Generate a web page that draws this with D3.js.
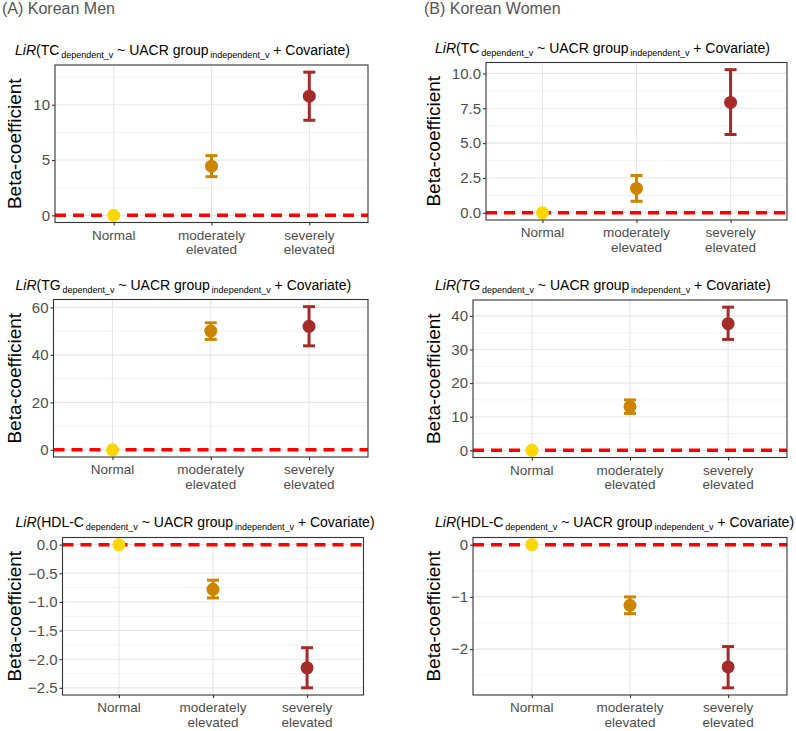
<!DOCTYPE html>
<html><head><meta charset="utf-8">
<script src="https://cdn.jsdelivr.net/npm/d3@7"></script>
<style>body{margin:0;background:#fff}svg{display:block}</style></head>
<body>
<svg id="c" width="796" height="731"></svg>
<script>
// ---------- data ----------
const categories = ["Normal", "moderately elevated", "severely elevated"];
const categoryLines = [["Normal"], ["moderately", "elevated"], ["severely", "elevated"]];
const pointColors = ["#FFD700", "#CD8500", "#A52A2A"];

const menTC = [0, 4.45, 10.78];
const menTCLo = [0, 3.5, 8.6];
const menTCHi = [0, 5.4, 12.95];

const menTG = [0, 50.0, 52.0];
const menTGLo = [0, 46.5, 43.8];
const menTGHi = [0, 53.5, 60.3];

const menHDL = [0, -0.78, -2.15];
const menHDLLo = [0, -0.93, -2.50];
const menHDLHi = [0, -0.62, -1.80];

const womenTC = [0, 1.75, 7.92];
const womenTCLo = [0, 0.83, 5.62];
const womenTCHi = [0, 2.68, 10.27];

const womenTG = [0, 13.0, 37.7];
const womenTGLo = [0, 11.0, 33.0];
const womenTGHi = [0, 15.0, 42.6];

const womenHDL = [0, -1.16, -2.34];
const womenHDLLo = [0, -1.32, -2.74];
const womenHDLHi = [0, -1.00, -1.95];

const ticksMenTC = [0, 5, 10];
const ticksMenTG = [0, 20, 40, 60];
const ticksMenHDL = [0, -0.5, -1.0, -1.5, -2.0, -2.5];
const ticksWomenTC = [0, 2.5, 5.0, 7.5, 10.0];
const ticksWomenTG = [0, 10, 20, 30, 40];
const ticksWomenHDL = [0, -1, -2];

const groupLabels = ["(A) Korean Men", "(B) Korean Women"];
const yTitle = "Beta-coefficient";

// ---------- layout ----------
const minus = s => s.replace("-", "\u2212");
const panels = [
  {v: menTC, lo: menTCLo, hi: menTCHi, ticks: ticksMenTC, fmt: d3.format("d"), dep: "TC", italDep: false,
   box: {l: 55, r: 368, t: 65}, sub: {x: 15, y: 55}, yt: 14},
  {v: menTG, lo: menTGLo, hi: menTGHi, ticks: ticksMenTG, fmt: d3.format("d"), dep: "TG", italDep: false,
   box: {l: 53.5, r: 368, t: 299.5}, sub: {x: 15.5, y: 290}, yt: 14},
  {v: menHDL, lo: menHDLLo, hi: menHDLHi, ticks: ticksMenHDL, fmt: d3.format(".1f"), dep: "HDL-C", italDep: false,
   box: {l: 62.5, r: 363.5, t: 537.5}, sub: {x: 15.5, y: 527}, yt: 14},
  {v: womenTC, lo: womenTCLo, hi: womenTCHi, ticks: ticksWomenTC, fmt: d3.format(".1f"), dep: "TC", italDep: false,
   box: {l: 486, r: 787, t: 62.5}, sub: {x: 435, y: 53}, yt: 433},
  {v: womenTG, lo: womenTGLo, hi: womenTGHi, ticks: ticksWomenTG, fmt: d3.format("d"), dep: "TG", italDep: true,
   box: {l: 473, r: 787, t: 300}, sub: {x: 435, y: 290}, yt: 433},
  {v: womenHDL, lo: womenHDLLo, hi: womenHDLHi, ticks: ticksWomenHDL, fmt: d3.format("d"), dep: "HDL-C", italDep: false,
   box: {l: 473, r: 787, t: 537.5}, sub: {x: 435, y: 527}, yt: 433}
];
const panelHeight = 157.5;
const FONT = "'Liberation Sans', Arial, Helvetica, sans-serif";

const svg = d3.select("#c").style("font-family", FONT);

// group labels
svg.append("text").attr("x", 2).attr("y", 14).attr("font-size", 16).attr("fill", "#555").text(groupLabels[0]);
svg.append("text").attr("x", 424).attr("y", 14).attr("font-size", 16).attr("fill", "#555").text(groupLabels[1]);

panels.forEach(p => {
  const L = p.box.l, R = p.box.r, T = p.box.t, B = T + panelHeight;
  const all = [0].concat(p.lo, p.hi, p.v);
  const [mn, mx] = d3.extent(all);
  const pad = (mx - mn) * 0.05;
  const y = d3.scaleLinear().domain([mn - pad, mx + pad]).range([B, T]);
  const x = d3.scalePoint().domain(categories).range([L, R]).padding(0.6);
  const g = svg.append("g");

  // grid
  const step = Math.abs(p.ticks[1] - p.ticks[0]);
  const minor = [];
  const sorted = p.ticks.slice().sort((a, b) => a - b);
  for (let t = sorted[0] - step / 2; t <= sorted[sorted.length - 1] + step; t += step) {
    if (t > mn - pad && t < mx + pad) minor.push(t);
  }
  g.selectAll(".mn").data(minor).join("line")
    .attr("x1", L).attr("x2", R).attr("y1", d => y(d)).attr("y2", d => y(d))
    .attr("stroke", "#EBEBEB").attr("stroke-width", 0.6);
  g.selectAll(".mj").data(p.ticks).join("line")
    .attr("x1", L).attr("x2", R).attr("y1", d => y(d)).attr("y2", d => y(d))
    .attr("stroke", "#E6E6E6").attr("stroke-width", 1.1);
  g.selectAll(".vx").data(categories).join("line")
    .attr("x1", d => x(d)).attr("x2", d => x(d)).attr("y1", T).attr("y2", B)
    .attr("stroke", "#E6E6E6").attr("stroke-width", 1.1);

  // reference line
  g.append("line").attr("x1", L).attr("x2", R).attr("y1", y(0)).attr("y2", y(0))
    .attr("stroke", "#FF0000").attr("stroke-width", 3.5).attr("stroke-dasharray", "11,7");

  // error bars
  const idx = d3.range(categories.length).filter(i => p.lo[i] !== p.hi[i]);
  idx.forEach(i => {
    const cx = x(categories[i]);
    const eg = g.append("g").attr("stroke", pointColors[i]).attr("stroke-width", 3);
    eg.append("line").attr("x1", cx).attr("x2", cx).attr("y1", y(p.lo[i])).attr("y2", y(p.hi[i]));
    eg.append("line").attr("x1", cx - 6).attr("x2", cx + 6).attr("y1", y(p.lo[i])).attr("y2", y(p.lo[i]));
    eg.append("line").attr("x1", cx - 6).attr("x2", cx + 6).attr("y1", y(p.hi[i])).attr("y2", y(p.hi[i]));
  });

  // points
  g.selectAll(".pt").data(p.v).join("circle")
    .attr("cx", (d, i) => x(categories[i])).attr("cy", d => y(d)).attr("r", 6.5)
    .attr("fill", (d, i) => pointColors[i]);

  // border
  g.append("rect").attr("x", L).attr("y", T).attr("width", R - L).attr("height", B - T)
    .attr("fill", "none").attr("stroke", "#333").attr("stroke-width", 1.1);

  // y axis
  const ya = g.append("g").attr("transform", `translate(${L},0)`)
    .call(d3.axisLeft(y).tickValues(p.ticks).tickSize(3).tickPadding(2).tickFormat(d => minus(p.fmt(d))));
  ya.select(".domain").remove();
  ya.selectAll(".tick line").attr("stroke", "#333").attr("stroke-width", 1.1);
  ya.selectAll(".tick text").attr("fill", "#4D4D4D").attr("font-size", 15).attr("font-family", FONT);

  // x axis
  const xa = g.append("g").attr("transform", `translate(0,${B})`)
    .call(d3.axisBottom(x).tickSize(3).tickFormat(""));
  xa.select(".domain").remove();
  xa.selectAll(".tick line").attr("stroke", "#333").attr("stroke-width", 1.1);
  categories.forEach((c, i) => {
    categoryLines[i].forEach((ln, k) => {
      g.append("text").attr("text-anchor", "middle").attr("fill", "#4D4D4D")
        .attr("font-size", 13.5).attr("x", x(c)).attr("y", B + 17 + k * 14.5).text(ln);
    });
  });

  // y title
  g.append("text").attr("transform", `translate(${p.yt + 7},${(T + B) / 2}) rotate(-90)`)
    .attr("text-anchor", "middle").attr("font-size", 19).attr("fill", "#000").text(yTitle);

  // subtitle
  const st = g.append("text").attr("x", p.sub.x).attr("y", p.sub.y).attr("font-size", 14).attr("fill", "#000");
  if (p.italDep) {
    st.append("tspan").attr("font-style", "italic").text("LiR(" + p.dep);
  } else {
    st.append("tspan").attr("font-style", "italic").text("LiR");
    st.append("tspan").text("(" + p.dep);
  }
  st.append("tspan").attr("font-size", 9).attr("dy", 2.5).text("\u2009dependent_v");
  st.append("tspan").attr("dy", -2.5).text(" ~ UACR group");
  st.append("tspan").attr("font-size", 9).attr("dy", 2.5).text("\u2009independent_v");
  st.append("tspan").attr("dy", -2.5).text(" + Covariate)");
});
</script>
</body></html>
